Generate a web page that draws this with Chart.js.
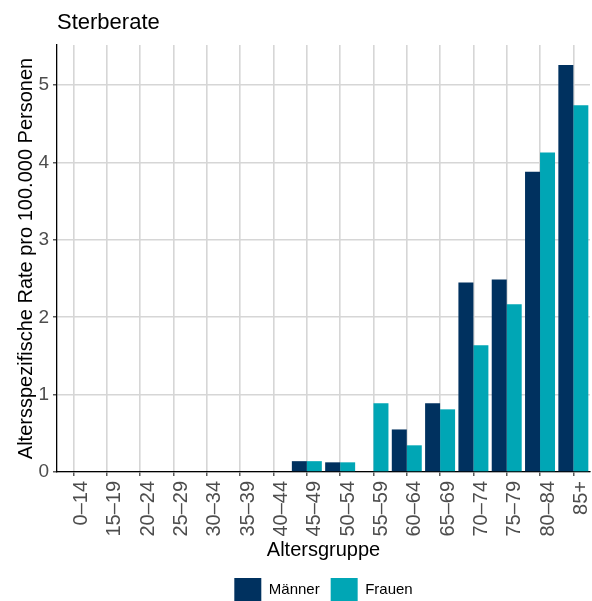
<!DOCTYPE html>
<html>
<head>
<meta charset="utf-8">
<script src="https://cdn.jsdelivr.net/npm/chart.js@4"></script>
<style>
  html, body { margin: 0; padding: 0; background: #fff; }
  #wrap { width: 592px; height: 601px; }
</style>
</head>
<body>
<div id="wrap"><canvas id="chart" width="592" height="601"></canvas></div>
<script>
// Data
const ageGroups = ['0–14', '15–19', '20–24', '25–29', '30–34', '35–39', '40–44', '45–49',
    '50–54', '55–59', '60–64', '65–69', '70–74', '75–79', '80–84', '85+'];
const maenner = [0, 0, 0, 0, 0, 0, 0, 0.14, 0.125, 0, 0.55, 0.89, 2.45, 2.49, 3.88, 5.26];
const frauen = [0, 0, 0, 0, 0, 0, 0, 0.14, 0.125, 0.89, 0.345, 0.81, 1.64, 2.17, 4.13, 4.74];
const yTicks = [0, 1, 2, 3, 4, 5];

// Colors
const DARK = '#00315f';
const TEAL = '#00a6b5';
const GRID = '#d6d6d6';
const TICK_TEXT = '#4d4d4d';
const FONT = 'Liberation Sans, Arial, sans-serif';

const ctx = document.getElementById('chart').getContext('2d');

new Chart(ctx, {
    type: 'bar',
    data: {
        labels: ageGroups,
        datasets: [{
            label: 'Männer',
            data: maenner,
            backgroundColor: DARK,
            borderWidth: 0,
            categoryPercentage: 0.9,
            barPercentage: 1.0
        }, {
            label: 'Frauen',
            data: frauen,
            backgroundColor: TEAL,
            borderWidth: 0,
            categoryPercentage: 0.9,
            barPercentage: 1.0
        }]
    },
    options: {
        responsive: false,
        animation: false,
        layout: {
            padding: { left: 0, right: 2, top: 0, bottom: -10 }
        },
        plugins: {
            title: {
                display: true,
                text: 'Sterberate',
                align: 'start',
                fullSize: false,
                color: '#000',
                font: { family: FONT, size: 22, weight: 'normal' },
                padding: { top: 10, bottom: 8.6 }
            },
            legend: {
                display: true,
                position: 'bottom',
                fullSize: false,
                labels: {
                    color: '#000',
                    font: { family: FONT, size: 15 },
                    boxWidth: 27,
                    boxHeight: 23,
                    padding: 11
                }
            },
            tooltip: { enabled: false }
        },
        scales: {
            x: {
                offset: true,
                grid: {
                    color: GRID,
                    lineWidth: 1.6,
                    offset: false,
                    drawTicks: true,
                    tickLength: 4,
                    tickColor: '#333',
                    tickWidth: 1.2
                },
                border: { display: true, color: '#000', width: 1.3 },
                ticks: {
                    color: TICK_TEXT,
                    font: { family: FONT, size: 20 },
                    minRotation: 90,
                    maxRotation: 90,
                    padding: 5,
                    labelOffset: 8,
                    autoSkip: false
                },
                title: {
                    display: true,
                    text: 'Altersgruppe',
                    color: '#000',
                    font: { family: FONT, size: 20 },
                    padding: { top: 0, bottom: 5 }
                },
                afterFit: function(scale) {
                    scale.height = 95;
                    // no extra side padding for rotated labels
                    scale.paddingLeft = 0;
                    scale.paddingRight = 0;
                }
            },
            y: {
                min: 0,
                max: 5.52,
                afterBuildTicks: function(scale) {
                    scale.ticks = yTicks.map(v => ({ value: v }));
                },
                grid: {
                    color: GRID,
                    lineWidth: 1.6,
                    tickLength: 4,
                    tickColor: '#333',
                    tickWidth: 1.2
                },
                border: { display: true, color: '#000', width: 1.3 },
                ticks: {
                    color: TICK_TEXT,
                    font: { family: FONT, size: 19 },
                    padding: 4
                },
                title: {
                    display: true,
                    text: 'Altersspezifische Rate pro 100.000 Personen',
                    color: '#000',
                    font: { family: FONT, size: 20 },
                    padding: { top: 14, bottom: 0 }
                },
                afterFit: function(scale) {
                    scale.width = 57;
                    scale.paddingTop = 0;
                    scale.paddingBottom = 0;
                }
            }
        }
    }
});
</script>
</body>
</html>
